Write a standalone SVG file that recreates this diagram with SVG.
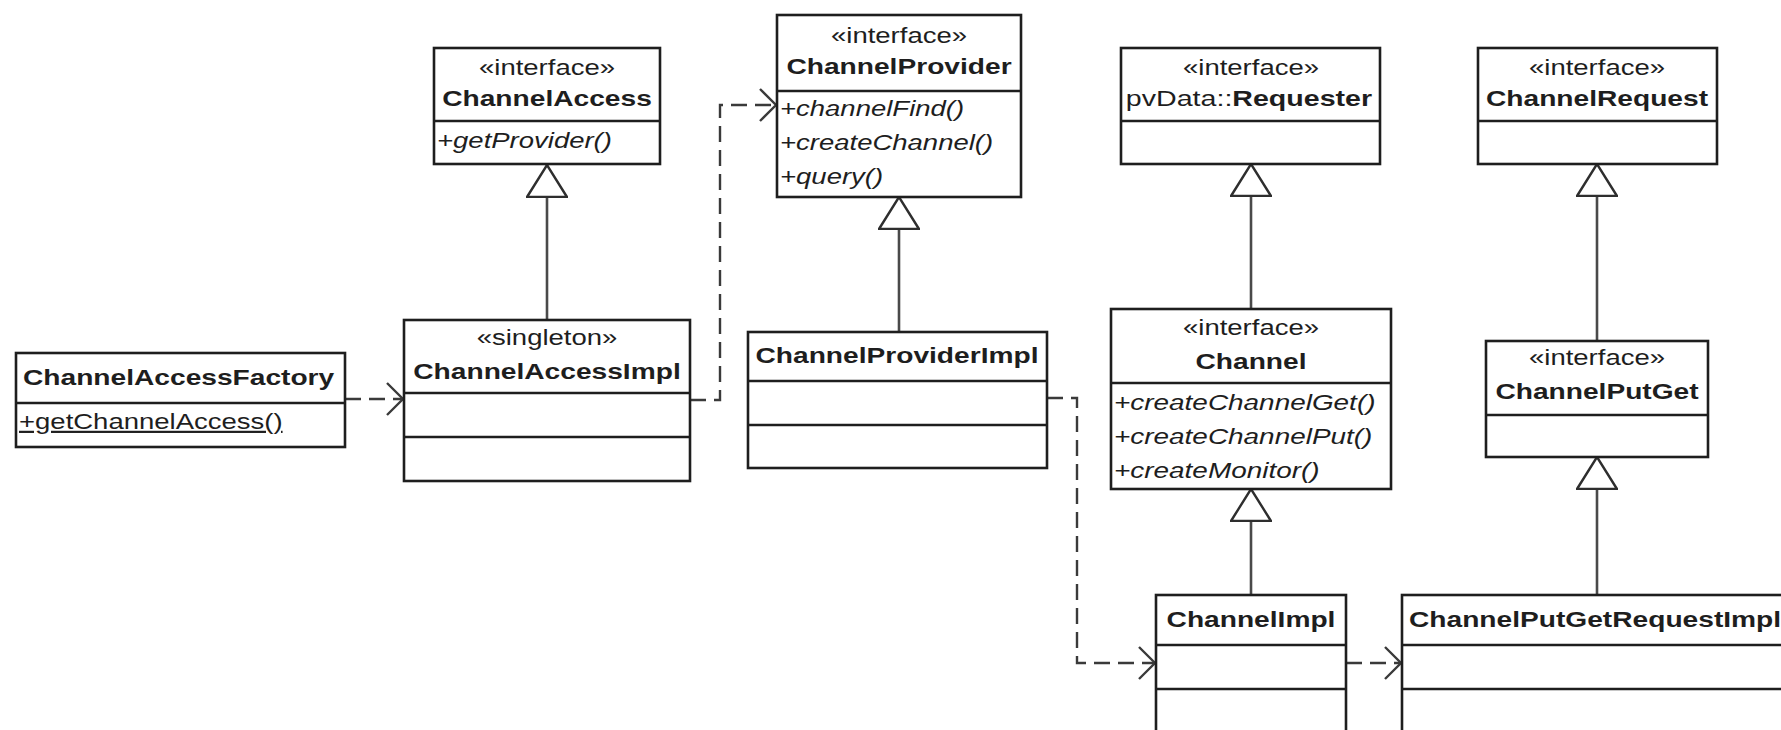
<svg xmlns="http://www.w3.org/2000/svg" width="1781" height="730" viewBox="0 0 1781 730">
  <defs>
    <style>
      .box { fill: #ffffff; stroke: #1e1e1e; stroke-width: 2.6; }
      .sep { stroke: #1e1e1e; stroke-width: 2.6; fill: none; }
      .t { font-family: "Liberation Sans", Arial, sans-serif; font-size: 22px; fill: #1e1e1e; }
      .b { font-weight: bold; }
      .i { font-style: italic; }
      .m { text-anchor: middle; }
      .u { text-decoration: underline; }
      .gen { stroke: #4a4a4a; stroke-width: 2.6; fill: none; }
      .dep { stroke: #3a3a3a; stroke-width: 2.4; fill: none; stroke-dasharray: 16 8; }
    </style>
    <!-- hollow generalization triangle, apex on the parent edge -->
    <marker id="tri" markerUnits="userSpaceOnUse" viewBox="0 0 34 42" refX="33" refY="21" markerWidth="34" markerHeight="42" orient="auto">
      <path d="M1,1 L33,21 L1,41 Z" fill="#ffffff" stroke="#2e2e2e" stroke-width="2.4"/>
    </marker>
    <!-- open arrowhead for dependencies -->
    <marker id="open" markerUnits="userSpaceOnUse" viewBox="0 0 20 36" refX="18" refY="18" markerWidth="20" markerHeight="36" orient="auto">
      <path d="M2,2 L18,18 L2,34" fill="none" stroke="#3a3a3a" stroke-width="2.4" stroke-dasharray="none"/>
    </marker>
  </defs>

  <rect width="1781" height="730" fill="#ffffff"/>

  <!-- connectors -->
  <g id="connectors">
    <!-- generalizations -->
    <path class="gen" d="M547,320 V165" marker-end="url(#tri)"/>
    <path class="gen" d="M899,332 V197" marker-end="url(#tri)"/>
    <path class="gen" d="M1251,309 V164" marker-end="url(#tri)"/>
    <path class="gen" d="M1597,341 V164" marker-end="url(#tri)"/>
    <path class="gen" d="M1251,595 V489" marker-end="url(#tri)"/>
    <path class="gen" d="M1597,595 V457" marker-end="url(#tri)"/>
    <!-- dependencies -->
    <path class="dep" d="M345,399 H403" marker-end="url(#open)"/>
    <path class="dep" d="M690,400 H720 V105 H776" marker-end="url(#open)"/>
    <path class="dep" d="M1047,398 H1077 V663 H1155" marker-end="url(#open)"/>
    <path class="dep" d="M1346,663 H1401" marker-end="url(#open)"/>
  </g>

  <g id="ChannelAccess">
    <rect class="box" x="434" y="48" width="226" height="116"/>
    <line class="sep" x1="434" y1="121" x2="660" y2="121"/>
    <text class="t m" transform="translate(547 75) scale(1.25 1)">«interface»</text>
    <text class="t b m" transform="translate(547 106) scale(1.28 1)">ChannelAccess</text>
    <text class="t i" transform="translate(437 148) scale(1.25 1)">+getProvider()</text>
  </g>

  <g id="ChannelProvider">
    <rect class="box" x="777" y="15" width="244" height="182"/>
    <line class="sep" x1="777" y1="91" x2="1021" y2="91"/>
    <text class="t m" transform="translate(899 43) scale(1.25 1)">«interface»</text>
    <text class="t b m" transform="translate(899 74) scale(1.28 1)">ChannelProvider</text>
    <text class="t i" transform="translate(780 116) scale(1.25 1)">+channelFind()</text>
    <text class="t i" transform="translate(780 150) scale(1.25 1)">+createChannel()</text>
    <text class="t i" transform="translate(780 184) scale(1.25 1)">+query()</text>
  </g>

  <g id="Requester">
    <rect class="box" x="1121" y="48" width="259" height="116"/>
    <line class="sep" x1="1121" y1="121" x2="1380" y2="121"/>
    <text class="t m" transform="translate(1251 75) scale(1.25 1)">«interface»</text>
    <text class="t m" transform="translate(1249 106) scale(1.3 1)">pvData::<tspan class="b">Requester</tspan></text>
  </g>

  <g id="ChannelRequest">
    <rect class="box" x="1478" y="48" width="239" height="116"/>
    <line class="sep" x1="1478" y1="121" x2="1717" y2="121"/>
    <text class="t m" transform="translate(1597 75) scale(1.25 1)">«interface»</text>
    <text class="t b m" transform="translate(1597 106) scale(1.28 1)">ChannelRequest</text>
  </g>

  <g id="ChannelAccessFactory">
    <rect class="box" x="16" y="353" width="329" height="94"/>
    <line class="sep" x1="16" y1="403" x2="345" y2="403"/>
    <text class="t b" transform="translate(23 385) scale(1.28 1)">ChannelAccessFactory</text>
    <text class="t u" transform="translate(19 429) scale(1.25 1)">+getChannelAccess()</text>
  </g>

  <g id="ChannelAccessImpl">
    <rect class="box" x="404" y="320" width="286" height="161"/>
    <line class="sep" x1="404" y1="393" x2="690" y2="393"/>
    <line class="sep" x1="404" y1="437" x2="690" y2="437"/>
    <text class="t m" transform="translate(547 345) scale(1.25 1)">«singleton»</text>
    <text class="t b m" transform="translate(547 379) scale(1.28 1)">ChannelAccessImpl</text>
  </g>

  <g id="ChannelProviderImpl">
    <rect class="box" x="748" y="332" width="299" height="136"/>
    <line class="sep" x1="748" y1="381" x2="1047" y2="381"/>
    <line class="sep" x1="748" y1="425" x2="1047" y2="425"/>
    <text class="t b m" transform="translate(897 363) scale(1.28 1)">ChannelProviderImpl</text>
  </g>

  <g id="Channel">
    <rect class="box" x="1111" y="309" width="280" height="180"/>
    <line class="sep" x1="1111" y1="383" x2="1391" y2="383"/>
    <text class="t m" transform="translate(1251 335) scale(1.25 1)">«interface»</text>
    <text class="t b m" transform="translate(1251 369) scale(1.28 1)">Channel</text>
    <text class="t i" transform="translate(1114 410) scale(1.27 1)">+createChannelGet()</text>
    <text class="t i" transform="translate(1114 444) scale(1.27 1)">+createChannelPut()</text>
    <text class="t i" transform="translate(1114 478) scale(1.27 1)">+createMonitor()</text>
  </g>

  <g id="ChannelPutGet">
    <rect class="box" x="1486" y="341" width="222" height="116"/>
    <line class="sep" x1="1486" y1="415" x2="1708" y2="415"/>
    <text class="t m" transform="translate(1597 365) scale(1.25 1)">«interface»</text>
    <text class="t b m" transform="translate(1597 399) scale(1.28 1)">ChannelPutGet</text>
  </g>

  <g id="ChannelImpl">
    <rect class="box" x="1156" y="595" width="190" height="150"/>
    <line class="sep" x1="1156" y1="645" x2="1346" y2="645"/>
    <line class="sep" x1="1156" y1="689" x2="1346" y2="689"/>
    <text class="t b m" transform="translate(1251 627) scale(1.28 1)">ChannelImpl</text>
  </g>

  <g id="ChannelPutGetRequestImpl">
    <rect class="box" x="1402" y="595" width="400" height="150"/>
    <line class="sep" x1="1402" y1="645" x2="1802" y2="645"/>
    <line class="sep" x1="1402" y1="689" x2="1802" y2="689"/>
    <text class="t b" transform="translate(1409 627) scale(1.28 1)">ChannelPutGetRequestImpl</text>
  </g>
</svg>
